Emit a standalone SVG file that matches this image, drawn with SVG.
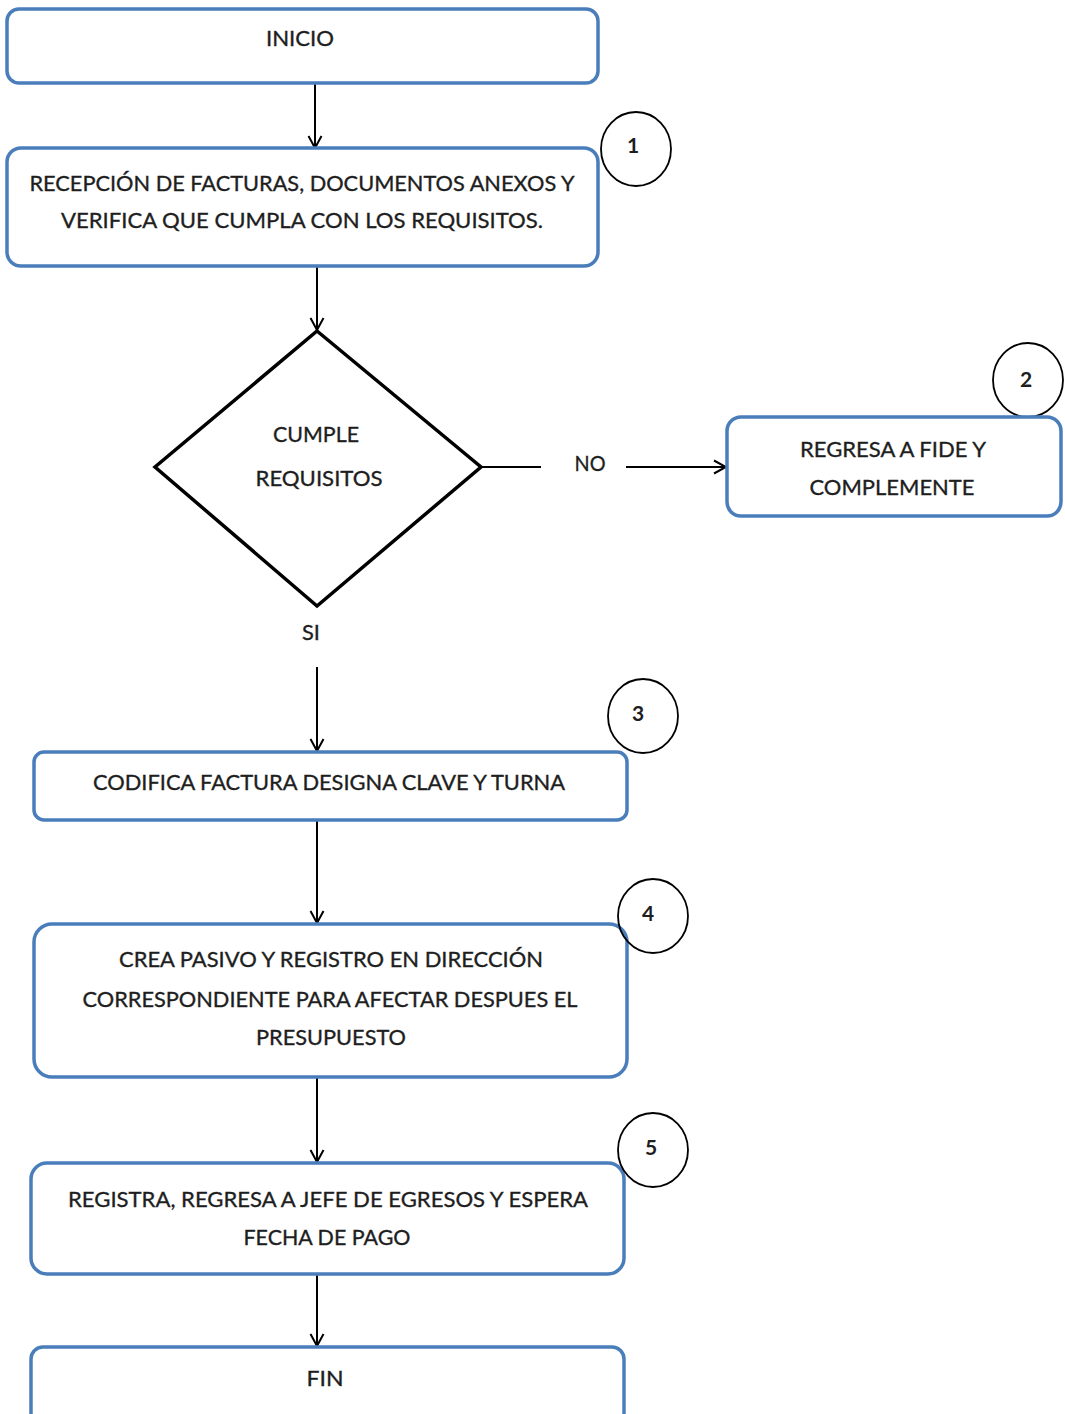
<svg xmlns="http://www.w3.org/2000/svg" width="1065" height="1414" viewBox="0 0 1065 1414">
  <style>
    .box { fill: #ffffff; stroke: #4a7ebb; stroke-width: 3.5; }
    .dec { fill: #ffffff; stroke: #000000; stroke-width: 3.5; stroke-linejoin: miter; }
    .num { fill: none; stroke: #000000; stroke-width: 1.8; }
    .lbl { font-family: "Lato", "Open Sans", "Liberation Sans", sans-serif; font-size: 22px; fill: #1e1e1e; stroke: #1e1e1e; stroke-width: 0.35; text-anchor: middle; }
    .dig { font-family: "Lato", "Open Sans", "Liberation Sans", sans-serif; font-size: 21px; font-weight: bold; fill: #1e1e1e; text-anchor: middle; }
    .wire { fill: none; stroke: #000000; stroke-width: 2; }
  </style>
  <defs>
    <marker id="arrow" viewBox="0 0 14 16" refX="13" refY="8" markerWidth="14" markerHeight="16" markerUnits="userSpaceOnUse" orient="auto">
      <path d="M1,1.5 L13,8 L1,14.5" fill="none" stroke="#000000" stroke-width="2"/>
    </marker>
  </defs>

  <rect width="1065" height="1414" fill="#ffffff"/>

  <!-- connectors -->
  <g id="connectors">
    <line class="wire" x1="315" y1="84" x2="315" y2="148" marker-end="url(#arrow)"/>
    <line class="wire" x1="317" y1="267" x2="317" y2="330" marker-end="url(#arrow)"/>
    <line class="wire" x1="481" y1="467" x2="541" y2="467"/>
    <line class="wire" x1="626" y1="467" x2="726" y2="467" marker-end="url(#arrow)"/>
    <line class="wire" x1="317" y1="667" x2="317" y2="751" marker-end="url(#arrow)"/>
    <line class="wire" x1="317" y1="821" x2="317" y2="923" marker-end="url(#arrow)"/>
    <line class="wire" x1="317" y1="1078" x2="317" y2="1162" marker-end="url(#arrow)"/>
    <line class="wire" x1="317" y1="1275" x2="317" y2="1346" marker-end="url(#arrow)"/>
    <text class="lbl" x="590" y="471" textLength="31" lengthAdjust="spacingAndGlyphs">NO</text>
    <text class="lbl" x="311" y="640" textLength="18" lengthAdjust="spacingAndGlyphs">SI</text>
  </g>

  <!-- start -->
  <g id="inicio">
    <rect class="box" x="7" y="9" width="591" height="74" rx="12"/>
    <text class="lbl" x="300" y="46" textLength="68" lengthAdjust="spacingAndGlyphs">INICIO</text>
  </g>

  <!-- step 1 -->
  <g id="recepcion">
    <rect class="box" x="7" y="148" width="591" height="118" rx="14"/>
    <text class="lbl" x="302" y="191" textLength="545" lengthAdjust="spacingAndGlyphs">RECEPCIÓN DE FACTURAS, DOCUMENTOS ANEXOS Y</text>
    <text class="lbl" x="302" y="228" textLength="482" lengthAdjust="spacingAndGlyphs">VERIFICA QUE CUMPLA CON LOS REQUISITOS.</text>
  </g>
  <g id="paso1">
    <ellipse class="num" cx="636" cy="149" rx="35" ry="37"/>
    <text class="dig" x="633" y="153">1</text>
  </g>

  <!-- decision -->
  <g id="cumple">
    <polygon class="dec" points="317,331 481,467 317,606 155,467"/>
    <text class="lbl" x="316" y="442" textLength="86" lengthAdjust="spacingAndGlyphs">CUMPLE</text>
    <text class="lbl" x="319" y="486" textLength="127" lengthAdjust="spacingAndGlyphs">REQUISITOS</text>
  </g>

  <!-- step 2 -->
  <g id="paso2">
    <ellipse class="num" cx="1028" cy="380" rx="35" ry="37"/>
    <text class="dig" x="1026" y="387">2</text>
  </g>
  <g id="regresa">
    <rect class="box" x="727" y="417" width="334" height="99" rx="14"/>
    <text class="lbl" x="893" y="457" textLength="186" lengthAdjust="spacingAndGlyphs">REGRESA A FIDE Y</text>
    <text class="lbl" x="892" y="495" textLength="165" lengthAdjust="spacingAndGlyphs">COMPLEMENTE</text>
  </g>

  <!-- step 3 -->
  <g id="codifica">
    <rect class="box" x="34" y="752" width="593" height="68" rx="10"/>
    <text class="lbl" x="329" y="790" textLength="472" lengthAdjust="spacingAndGlyphs">CODIFICA FACTURA DESIGNA CLAVE Y TURNA</text>
  </g>
  <g id="paso3">
    <ellipse class="num" cx="643" cy="716" rx="35" ry="37"/>
    <text class="dig" x="638" y="721">3</text>
  </g>

  <!-- step 4 -->
  <g id="pasivo">
    <rect class="box" x="34" y="924" width="593" height="153" rx="18"/>
    <text class="lbl" x="331" y="967" textLength="424" lengthAdjust="spacingAndGlyphs">CREA PASIVO Y REGISTRO EN DIRECCIÓN</text>
    <text class="lbl" x="330" y="1007" textLength="495" lengthAdjust="spacingAndGlyphs">CORRESPONDIENTE PARA AFECTAR DESPUES EL</text>
    <text class="lbl" x="331" y="1045" textLength="150" lengthAdjust="spacingAndGlyphs">PRESUPUESTO</text>
  </g>
  <g id="paso4">
    <ellipse class="num" cx="653" cy="916" rx="35" ry="37"/>
    <text class="dig" x="648" y="921">4</text>
  </g>

  <!-- step 5 -->
  <g id="registra">
    <rect class="box" x="31" y="1163" width="593" height="111" rx="16"/>
    <text class="lbl" x="328" y="1207" textLength="520" lengthAdjust="spacingAndGlyphs">REGISTRA, REGRESA A JEFE DE EGRESOS Y ESPERA</text>
    <text class="lbl" x="327" y="1245" textLength="167" lengthAdjust="spacingAndGlyphs">FECHA DE PAGO</text>
  </g>
  <g id="paso5">
    <ellipse class="num" cx="653" cy="1150" rx="35" ry="37"/>
    <text class="dig" x="651" y="1155">5</text>
  </g>

  <!-- end -->
  <g id="fin">
    <rect class="box" x="31" y="1347" width="593" height="80" rx="12"/>
    <text class="lbl" x="325" y="1386" textLength="37" lengthAdjust="spacingAndGlyphs">FIN</text>
  </g>
</svg>
